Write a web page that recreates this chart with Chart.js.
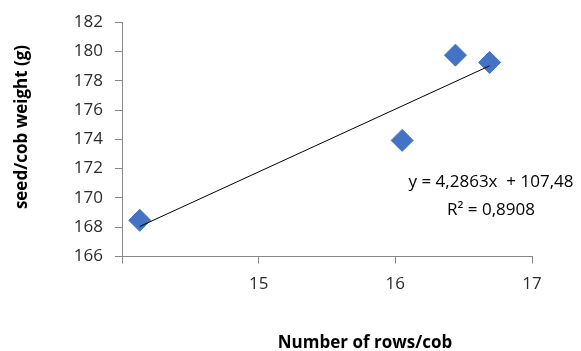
<!DOCTYPE html>
<html>
<head>
<meta charset="utf-8">
<script src="https://cdn.jsdelivr.net/npm/chart.js@4/dist/chart.umd.min.js"></script>
<style>
  html, body { margin: 0; padding: 0; background: #fff; }
  #wrap { width: 581px; height: 351px; position: relative; }
</style>
</head>
<body>
<div id="wrap"><canvas id="c"></canvas></div>
<script>
// data
const rowsPerCob  = [14.13, 16.05, 16.44, 16.69];
const seedWeight  = [168.47, 173.93, 179.75, 179.25];
const trendX      = [14.13, 16.69];
const trendY      = [168.05, 179.02];
const X_TICKS     = [14, 15, 16, 17];
const Y_TICKS     = [166, 168, 170, 172, 174, 176, 178, 180, 182];
const EQ_LINES    = ['y = 4,2863x  + 107,48', 'R\u00b2 = 0,8908'];
const X_TITLE     = 'Number of rows/cob';
const Y_TITLE     = 'seed/cob weight (g)';

const AXIS_GRAY = '#868686';
const LABEL_COLOR = '#2b2b2b';
const FONT = '"Open Sans", sans-serif';

// axis titles and trendline label, placed like the reference
const textPlugin = {
  id: 'textPlugin',
  afterDraw(chart) {
    const ctx = chart.ctx;
    ctx.save();
    ctx.fillStyle = '#000';
    ctx.textAlign = 'center';
    ctx.textBaseline = 'middle';
    ctx.font = '17px ' + FONT;
    ctx.fillText(EQ_LINES[0], 491, 182);
    ctx.fillText(EQ_LINES[1], 491, 210);
    ctx.font = 'bold 17px ' + FONT;
    ctx.fillText(X_TITLE, 365, 343);
    ctx.translate(22, 127);
    ctx.rotate(-Math.PI / 2);
    ctx.fillText(Y_TITLE, 0, 0);
    ctx.restore();
  }
};

new Chart(document.getElementById('c'), {
  type: 'scatter',
  data: {
    datasets: [
      {
        label: 'Linear trend',
        data: trendX.map((x, i) => ({ x, y: trendY[i] })),
        showLine: true,
        borderColor: '#000',
        borderWidth: 1,
        pointRadius: 0,
      },
      {
        label: 'seed/cob weight',
        data: rowsPerCob.map((x, i) => ({ x, y: seedWeight[i] })),
        pointStyle: 'rectRot',
        pointRadius: 11,
        backgroundColor: '#4472C4',
        borderColor: '#4472C4',
        borderWidth: 1,
      },
    ],
  },
  options: {
    responsive: true, maintainAspectRatio: false, animation: false,
    layout: { padding: { top: 20, right: 49, left: 0, bottom: 0 } },
    plugins: { legend: { display: false }, tooltip: { enabled: false } },
    scales: {
      x: {
        type: 'linear', min: 14, max: 17,
        afterBuildTicks: s => { s.ticks = X_TICKS.map(v => ({ value: v })); },
        afterFit: s => { s.height = 94.5; },
        border: { color: AXIS_GRAY, width: 1 },
        grid: { drawOnChartArea: false, color: AXIS_GRAY, tickLength: 7 },
        ticks: { callback: v => v === 14 ? '' : v, padding: 10, color: LABEL_COLOR, font: { family: FONT, size: 17 } },
      },
      y: {
        type: 'linear', min: 166, max: 182,
        afterBuildTicks: s => { s.ticks = Y_TICKS.map(v => ({ value: v })); },
        afterFit: s => { s.width = 122; },
        border: { color: AXIS_GRAY, width: 1 },
        grid: { drawOnChartArea: false, color: AXIS_GRAY, tickLength: 7 },
        ticks: { padding: 12, color: LABEL_COLOR, font: { family: FONT, size: 17 } },
      },
    },
  },
  plugins: [textPlugin],
});
</script>
</body>
</html>
